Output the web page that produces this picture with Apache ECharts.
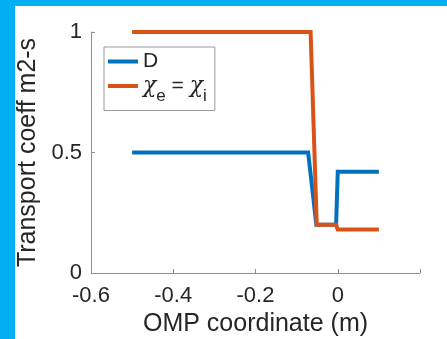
<!DOCTYPE html>
<html>
<head>
<meta charset="utf-8">
<script src="https://cdn.jsdelivr.net/npm/echarts@6/dist/echarts.min.js"></script>
<style>
  html, body { margin: 0; padding: 0; width: 447px; height: 339px; background: #00B0F0; overflow: hidden; }
  #chart { position: absolute; left: 15px; top: 6px; width: 432px; height: 333px; background: #ffffff; }
</style>
</head>
<body>
<div id="chart"></div>
<script>
// Transport coefficient profiles along the outboard midplane coordinate
const omp_D   = [-0.5, -0.072, -0.052, -0.004, 0.0, 0.1];
const coef_D  = [0.5, 0.5, 0.2, 0.2, 0.42, 0.42];
const omp_chi  = [-0.5, -0.066, -0.051, -0.004, 0.0, 0.1];
const coef_chi = [1.0, 1.0, 0.2, 0.2, 0.18, 0.18];
const xTicks = [-0.6, -0.4, -0.2, 0];
const yTicks = [0, 0.5, 1];

const pairs = (xs, ys) => xs.map((x, i) => [x, ys[i]]);
const FONT = 'Liberation Sans';
const INK = '#262626';
const AXIS = '#8f8f8f';

const chart = echarts.init(document.getElementById('chart'), null, { renderer: 'canvas' });
chart.setOption({
  animation: false,
  backgroundColor: '#ffffff',
  textStyle: { fontFamily: FONT, color: INK },
  grid: { left: 76, top: 26, right: 27, bottom: 66, outerBoundsMode: 'none', containLabel: false },
  legend: {
    orient: 'vertical',
    left: 89, top: 41,
    padding: [4, 8, 6, 4],
    itemGap: 3,
    itemWidth: 30, itemHeight: 4,
    icon: 'rect',
    borderColor: '#9a9a9a', borderWidth: 1,
    backgroundColor: '#ffffff',
    data: ['D', 'χe = χi'],
    formatter: name => name === 'D' ? '{m|D}' : '{c|χ}{s|e}{m| = }{c|χ}{s|i}',
    textStyle: {
      fontFamily: FONT, color: INK,
      rich: {
        m: { fontSize: 21, fontFamily: FONT, color: INK, lineHeight: 26 },
        c: { fontSize: 22, fontFamily: 'DejaVu Serif', fontStyle: 'italic', color: INK, lineHeight: 26 },
        s: { fontSize: 17, fontFamily: FONT, color: INK, lineHeight: 37, verticalAlign: 'bottom' }
      }
    }
  },
  xAxis: {
    type: 'value', min: -0.6, max: 0.2, interval: 0.2,
    name: 'OMP coordinate (m)', nameLocation: 'middle', nameGap: 37,
    nameTextStyle: { fontSize: 25, fontFamily: FONT, color: INK },
    axisLine: { show: true, onZero: false, lineStyle: { color: AXIS, width: 1 } },
    axisTick: { show: true, inside: true, length: 4, lineStyle: { color: AXIS } },
    splitLine: { show: false },
    axisLabel: {
      fontSize: 22, fontFamily: FONT, color: INK, margin: 12,
      formatter: v => {
        const r = Math.round(v * 10) / 10;
        return xTicks.some(t => Math.abs(t - r) < 1e-9) ? String(r) : '';
      }
    }
  },
  yAxis: {
    type: 'value', min: 0, max: 1, interval: 0.5,
    name: 'Transport coeff m2-s', nameLocation: 'middle', nameGap: 46,
    nameTextStyle: { fontSize: 25, fontFamily: FONT, color: INK },
    axisLine: { show: true, onZero: false, lineStyle: { color: AXIS, width: 1 } },
    axisTick: { show: true, inside: true, length: 4, lineStyle: { color: AXIS } },
    splitLine: { show: false },
    axisLabel: {
      fontSize: 22, fontFamily: FONT, color: INK, margin: 9,
      formatter: v => {
        const r = Math.round(v * 10) / 10;
        return yTicks.some(t => Math.abs(t - r) < 1e-9) ? String(r) : '';
      }
    }
  },
  series: [
    {
      name: 'D', type: 'line', data: pairs(omp_D, coef_D),
      symbol: 'none', color: '#0072BD',
      lineStyle: { width: 4, color: '#0072BD', join: 'miter' }
    },
    {
      name: 'χe = χi', type: 'line', data: pairs(omp_chi, coef_chi),
      symbol: 'none', color: '#D95319',
      lineStyle: { width: 4, color: '#D95319', join: 'miter' }
    }
  ]
});
</script>
</body>
</html>
